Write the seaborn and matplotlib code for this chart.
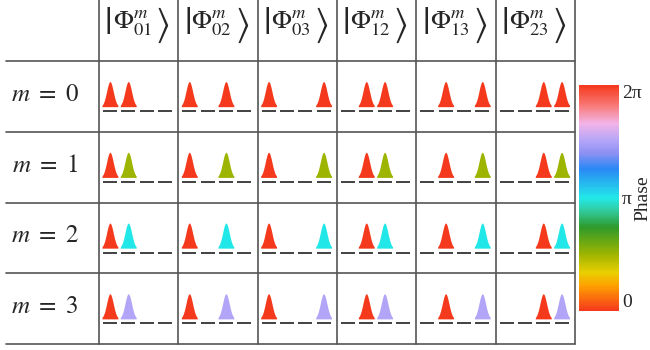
import numpy as np
import matplotlib
matplotlib.use("Agg")
import matplotlib.pyplot as plt
import seaborn as sns
from matplotlib.colors import LinearSegmentedColormap, Normalize
from matplotlib.cm import ScalarMappable

# ---- data ----
state_labels = ["01", "02", "03", "12", "13", "23"]
occupied_modes = [(0, 1), (0, 2), (0, 3), (1, 2), (1, 3), (2, 3)]
m_values = [0, 1, 2, 3]
first_phase = [0.0, 0.0, 0.0, 0.0]
second_phase = [0.0, np.pi / 2, np.pi, 3 * np.pi / 2]
n_modes = 4

phase_stops = [0.0, 0.11, 0.17, 0.25, 0.37, 0.45, 0.5, 0.63, 0.7, 0.75, 0.83, 0.91, 1.0]
phase_colors = ["#f5391c", "#ffa000", "#e8cf00", "#9eb400", "#2f9a2a", "#30cfa8",
                "#22e8e8", "#2a88f5", "#8e90f2", "#b0a4f8", "#f2b4e8", "#f87a78", "#f5391c"]

sns.set_theme(style="white")
plt.rcParams["font.family"] = ["Liberation Serif", "DejaVu Serif"]
plt.rcParams["mathtext.fontset"] = "stix"

cmap = LinearSegmentedColormap.from_list("phase", list(zip(phase_stops, phase_colors)))
norm = Normalize(0, 2 * np.pi)

fig = plt.figure(figsize=(6.5, 3.5), dpi=100)
lab_w = 1.172
head_h = 0.863
ax = fig.add_axes([6 / 650, 6 / 350, 569 / 650, 344 / 350])
ax.set_xlim(-lab_w, 6)
ax.set_ylim(4, -head_h)
ax.axis("off")

grid_col = "#555555"
for c in range(7):
    ax.plot([c, c], [-head_h, 4], color=grid_col, lw=1.2, clip_on=False)
for r in range(5):
    ax.plot([-lab_w, 6], [r, r], color=grid_col, lw=1.2, clip_on=False)

# peaks
xs = np.linspace(-1, 1, 60)
profile = np.exp(-xs ** 2 / (2 * 0.42 ** 2))
half_w = 0.1
pk_h = 0.355
base = 0.645
dash_y = 0.707
dash_half = 0.088
for c, (a, b) in enumerate(occupied_modes):
    for r, m in enumerate(m_values):
        for k in range(n_modes):
            xc = c + 0.138 + 0.231 * k
            ax.plot([xc - dash_half, xc + dash_half], [r + dash_y, r + dash_y],
                    color="#333333", lw=1.3, solid_capstyle="butt")
            if k == a or k == b:
                ph = first_phase[r] if k == a else second_phase[r]
                ax.fill_between(xc + half_w * xs, r + base, r + base - pk_h * profile,
                                color=cmap(norm(ph)), lw=0)

for c, s in enumerate(state_labels):
    ax.text(c + 0.42, -0.53, r"$\Phi^{m}_{%s}$" % s, ha="center", va="center", fontsize=19)
    ax.text(c + 0.11, -0.51, r"$|$", ha="center", va="center", fontsize=27)
    ax.text(c + 0.80, -0.51, r"$\rangle$", ha="center", va="center", fontsize=27)

for r, m in enumerate(m_values):
    ax.text(-0.68, r + 0.48, r"$m\ =\ %d$" % m, ha="center", va="center", fontsize=18)

cax = fig.add_axes([579 / 650, 39 / 350, 40 / 650, 226 / 350])
cb = fig.colorbar(ScalarMappable(norm=norm, cmap=cmap), cax=cax)
cb.outline.set_visible(False)
cb.set_ticks([0, np.pi, 2 * np.pi])
cb.set_ticklabels(["0", "π", "2π"])
cax.tick_params(length=0, labelsize=14, pad=2)
labs = cax.get_yticklabels()
labs[0].set_verticalalignment("bottom")
labs[2].set_verticalalignment("top")
cax.text(1.6, 0.5, "Phase", rotation=90, ha="center", va="center", fontsize=14,
         transform=cax.transAxes)

fig.savefig("out.png", dpi=100)
